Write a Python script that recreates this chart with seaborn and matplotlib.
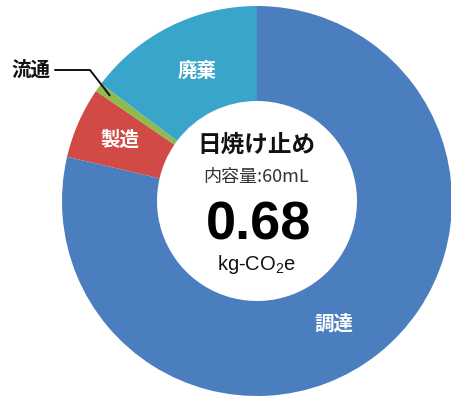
import numpy as np
import matplotlib
matplotlib.use("Agg")
import matplotlib.pyplot as plt
import seaborn as sns

# ---- data ----
categories = ["調達", "製造", "流通", "廃棄"]
values = [0.534, 0.040, 0.005, 0.100]   # kg-CO2e per stage
colors = ["#4a7ebf", "#d24a46", "#8dbb4c", "#3aa5cb"]
title_text = "日焼け止め"
volume_text = "内容量:60mL"
total_text = "0.68"
unit_text = "kg-CO$_2$e"

sns.set_theme(style="white")
plt.rcParams["font.family"] = ["Noto Sans CJK JP", "DejaVu Sans"]
plt.rcParams["mathtext.fontset"] = "custom"
plt.rcParams["mathtext.rm"] = "Liberation Sans"
plt.rcParams["mathtext.default"] = "regular"

W, H = 451, 398
fig = plt.figure(figsize=(W / 100, H / 100), dpi=100)
ax = fig.add_axes([0, 0, 1, 1])

cx, cy = 257, H - 201
R = 195
ring = 95

wedges, _ = ax.pie(values, colors=colors, startangle=90, counterclock=False,
                   center=(cx, cy), radius=R, frame=True,
                   wedgeprops=dict(width=ring, linewidth=0))
ax.set_xlim(0, W)
ax.set_ylim(0, H)
ax.set_aspect("equal")
ax.axis("off")

# segment labels
lab_kw = dict(color="white", fontweight="bold", ha="center", va="center", fontsize=14)
ax.text(334, H - 324, categories[0], **lab_kw)
ax.text(120, H - 140, categories[1], **lab_kw)
ax.text(197, H - 71, categories[3], **lab_kw)

# 流通 leader line, endpoint from the wedge's angle
w = wedges[2]
mid = np.deg2rad((w.theta1 + w.theta2) / 2)
ex, ey = cx + 0.93 * R * np.cos(mid), cy + 0.93 * R * np.sin(mid)
ax.plot([55, 90, ex], [H - 70, H - 70, ey], color="#111111", lw=1.4)
ax.text(31, H - 70, categories[2], color="#111111", fontweight="bold",
        ha="center", va="center", fontsize=14)

# centre text
ax.text(256, H - 145, title_text, ha="center", va="center", fontsize=17,
        fontweight="bold", color="#111111")
ax.text(256, H - 177, volume_text, ha="center", va="center", fontsize=13,
        color="#333333")
ax.text(259, H - 226, total_text, ha="center", va="center", fontsize=39,
        fontweight="bold", color="#000000", family=["Liberation Sans", "DejaVu Sans"])
ax.text(257, H - 265, unit_text, ha="center", va="center", fontsize=14.5,
        color="#111111", family=["Liberation Sans", "DejaVu Sans"])

fig.savefig("out.png", dpi=100, facecolor="white")
